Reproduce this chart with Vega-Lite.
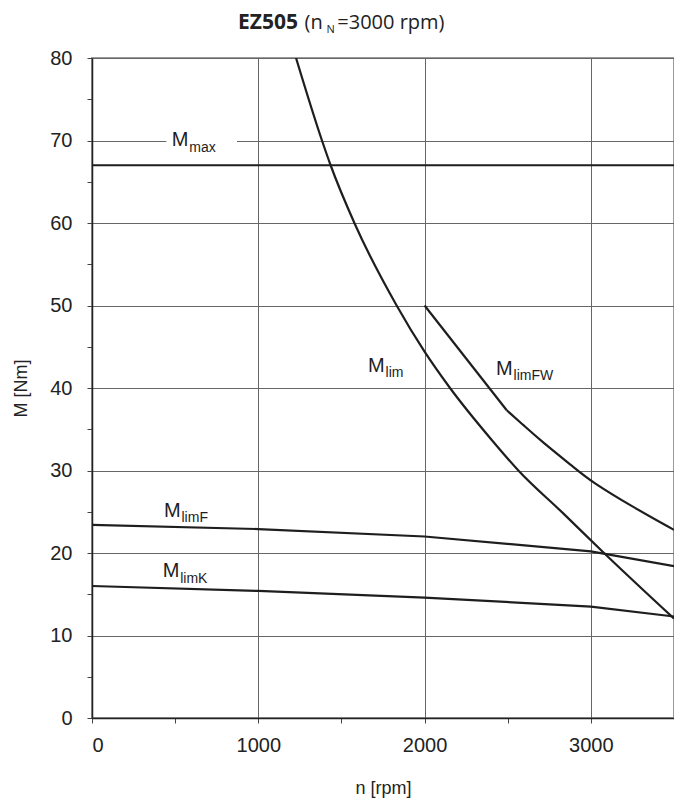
{
  "$schema": "https://vega.github.io/schema/vega-lite/v6.json",
  "width": 582,
  "height": 660,
  "autosize": {"type": "none"},
  "padding": {"left": 92, "top": 58, "right": 0, "bottom": 85},
  "background": "white",
  "config": {
    "view": {"stroke": "#9a9a9a", "strokeWidth": 2},
    "axis": {
      "labelFont": "Liberation Sans",
      "labelFontSize": 20,
      "labelColor": "#222",
      "titleFont": "Liberation Sans",
      "titleFontSize": 18,
      "titleFontWeight": "normal",
      "titleColor": "#222",
      "domainColor": "#222",
      "domainWidth": 1.5,
      "tickColor": "#444",
      "tickSize": 5,
      "gridColor": "#666",
      "gridWidth": 1
    }
  },
  "datasets": {
    "straight": [
      {"curve": "Mmax", "n": 0, "M": 67},
      {"curve": "Mmax", "n": 3500, "M": 67},
      {"curve": "MlimF", "n": 0, "M": 23.4},
      {"curve": "MlimF", "n": 1000, "M": 22.9},
      {"curve": "MlimF", "n": 2000, "M": 22.0},
      {"curve": "MlimF", "n": 3000, "M": 20.2},
      {"curve": "MlimF", "n": 3500, "M": 18.4},
      {"curve": "MlimK", "n": 0, "M": 16.0},
      {"curve": "MlimK", "n": 1000, "M": 15.4},
      {"curve": "MlimK", "n": 2000, "M": 14.6},
      {"curve": "MlimK", "n": 3000, "M": 13.5},
      {"curve": "MlimK", "n": 3500, "M": 12.3},
      {"curve": "MlimFW", "n": 2000, "M": 50},
      {"curve": "MlimFW", "n": 2494, "M": 37.3}
    ],
    "mlim": [
      {"n": 1227, "M": 80},
      {"n": 1383, "M": 70},
      {"n": 1435, "M": 67},
      {"n": 1578, "M": 60},
      {"n": 1832, "M": 50},
      {"n": 2000, "M": 44.4},
      {"n": 2153, "M": 40},
      {"n": 2404, "M": 33.7},
      {"n": 2564, "M": 30},
      {"n": 2834, "M": 24.8},
      {"n": 3079, "M": 20},
      {"n": 3500, "M": 12.05}
    ],
    "fw": [
      {"n": 2494, "M": 37.3},
      {"n": 2600, "M": 35.4},
      {"n": 2694, "M": 33.7},
      {"n": 2915, "M": 30.1},
      {"n": 3000, "M": 28.7},
      {"n": 3250, "M": 25.6},
      {"n": 3500, "M": 22.8}
    ],
    "labels": [
      {"sub": "max", "n": 480, "M": 69.3},
      {"sub": "lim", "n": 1660, "M": 42.0},
      {"sub": "limFW", "n": 2430, "M": 41.6},
      {"sub": "limF", "n": 433, "M": 24.4},
      {"sub": "limK", "n": 425, "M": 17.05}
    ]
  },
  "layer": [
    {
      "data": {"values": [{"n0": 447, "n1": 872, "M0": 68.6, "M1": 71.6}]},
      "mark": {"type": "rect", "fill": "white"},
      "encoding": {
        "x": {"field": "n0", "type": "quantitative", "scale": {"domain": [0, 3500], "nice": false},
          "axis": {
            "values": [0, 500, 1000, 1500, 2000, 2500, 3000, 3500],
            "labelExpr": "datum.value % 1000 === 0 ? datum.label : ''",
            "gridOpacity": {"condition": {"test": "datum.value % 1000 !== 0", "value": 0}, "value": 1},
            "labelPadding": 12,
            "title": "n [rpm]",
            "titlePadding": 24,
            "format": "d"
          }},
        "x2": {"field": "n1"},
        "y": {"field": "M0", "type": "quantitative", "scale": {"domain": [0, 80], "nice": false},
          "axis": {
            "values": [0, 5, 10, 15, 20, 25, 30, 35, 40, 45, 50, 55, 60, 65, 70, 75, 80],
            "labelExpr": "datum.value % 10 === 0 ? datum.label : ''",
            "gridOpacity": {"condition": {"test": "datum.value % 10 !== 0", "value": 0}, "value": 1},
            "labelPadding": 15,
            "title": "M [Nm]",
            "titlePadding": 19
          }},
        "y2": {"field": "M1"}
      }
    },
    {
      "data": {"name": "straight"},
      "mark": {"type": "line", "color": "#1e1e1e", "strokeWidth": 2.2, "clip": true},
      "encoding": {
        "x": {"field": "n", "type": "quantitative"},
        "y": {"field": "M", "type": "quantitative"},
        "detail": {"field": "curve"}
      }
    },
    {
      "data": {"name": "mlim"},
      "mark": {"type": "line", "color": "#1e1e1e", "strokeWidth": 2.2, "interpolate": "monotone", "clip": true},
      "encoding": {
        "x": {"field": "n", "type": "quantitative"},
        "y": {"field": "M", "type": "quantitative"}
      }
    },
    {
      "data": {"name": "fw"},
      "mark": {"type": "line", "color": "#1e1e1e", "strokeWidth": 2.2, "interpolate": "basis", "clip": true},
      "encoding": {
        "x": {"field": "n", "type": "quantitative"},
        "y": {"field": "M", "type": "quantitative"}
      }
    },
    {
      "data": {"name": "labels"},
      "mark": {"type": "text", "text": "M", "font": "Liberation Sans", "fontSize": 20, "color": "#1e1e1e", "align": "left", "baseline": "alphabetic"},
      "encoding": {
        "x": {"field": "n", "type": "quantitative"},
        "y": {"field": "M", "type": "quantitative"}
      }
    },
    {
      "data": {"name": "labels"},
      "mark": {"type": "text", "font": "Liberation Sans", "fontSize": 14, "color": "#1e1e1e", "align": "left", "baseline": "alphabetic", "dx": 17.5, "dy": 5.5},
      "encoding": {
        "x": {"field": "n", "type": "quantitative"},
        "y": {"field": "M", "type": "quantitative"},
        "text": {"field": "sub"}
      }
    },
    {
      "data": {"values": [{}]},
      "mark": {"type": "text", "text": "EZ505", "font": "Open Sans", "fontSize": 21, "fontWeight": "bold", "color": "#222", "align": "left", "baseline": "alphabetic"},
      "encoding": {
        "x": {"datum": 878, "type": "quantitative"},
        "y": {"datum": 83.5, "type": "quantitative"}
      }
    },
    {
      "data": {"values": [{}]},
      "mark": {"type": "text", "text": "(n", "font": "Open Sans", "fontSize": 20, "color": "#222", "align": "left", "baseline": "alphabetic"},
      "encoding": {
        "x": {"datum": 1278, "type": "quantitative"},
        "y": {"datum": 83.5, "type": "quantitative"}
      }
    },
    {
      "data": {"values": [{}]},
      "mark": {"type": "text", "text": "N", "font": "Open Sans", "fontSize": 11, "color": "#222", "align": "left", "baseline": "alphabetic"},
      "encoding": {
        "x": {"datum": 1410, "type": "quantitative"},
        "y": {"datum": 83.0, "type": "quantitative"}
      }
    },
    {
      "data": {"values": [{}]},
      "mark": {"type": "text", "text": "=3000 rpm)", "font": "Open Sans", "fontSize": 20, "color": "#222", "align": "left", "baseline": "alphabetic"},
      "encoding": {
        "x": {"datum": 1475, "type": "quantitative"},
        "y": {"datum": 83.5, "type": "quantitative"}
      }
    }
  ]
}
